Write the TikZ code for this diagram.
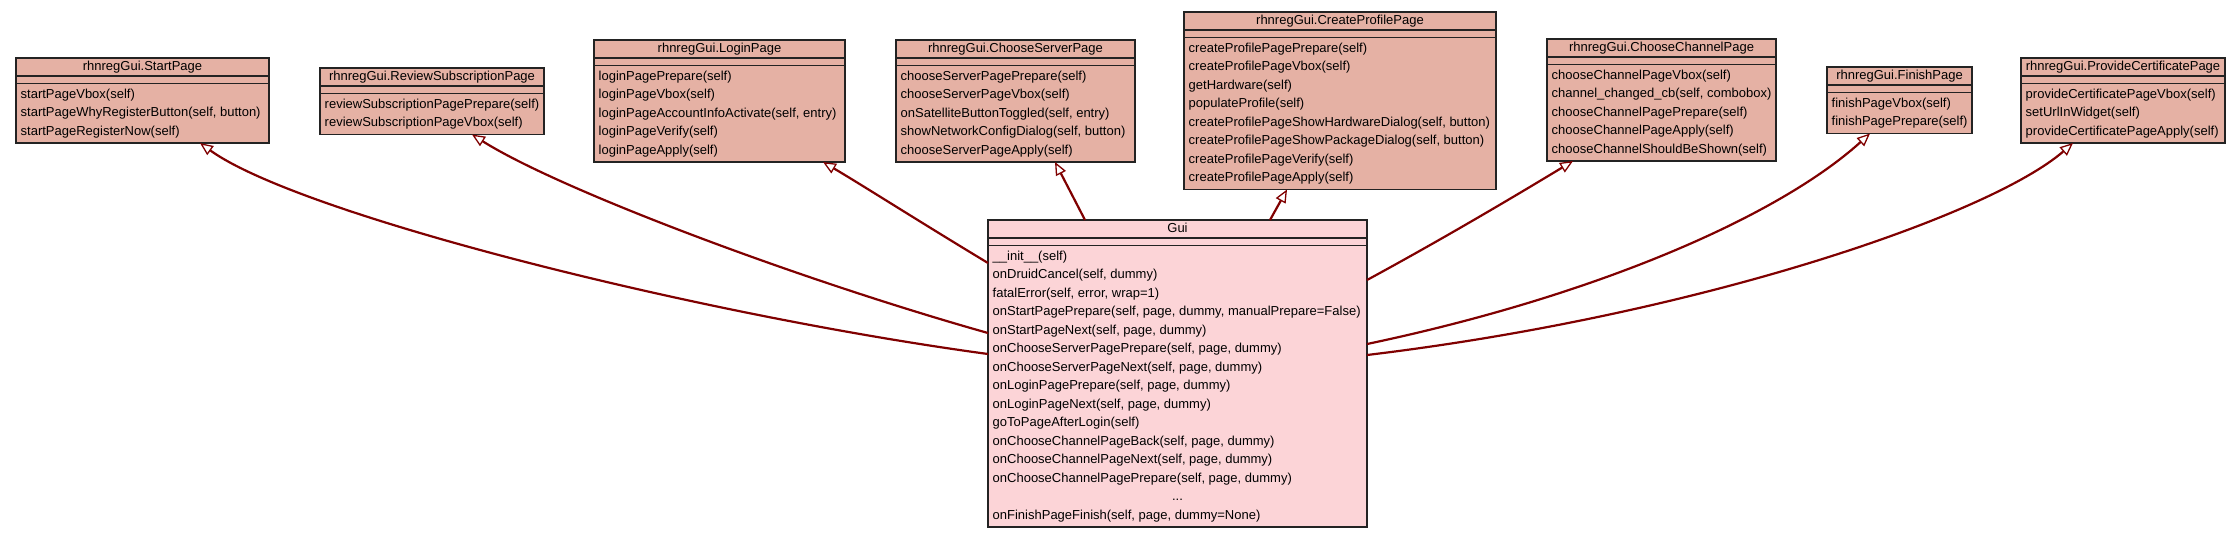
\documentclass[tikz,border=0pt]{standalone}
\usepackage{fontspec}
\setmainfont{Liberation Sans}
\usetikzlibrary{arrows.meta}
\definecolor{parentfill}{RGB}{229,177,164}
\definecolor{guifill}{RGB}{252,212,215}
\definecolor{edgec}{RGB}{128,0,0}
\definecolor{framec}{RGB}{35,35,35}
\tikzset{
  clsframe/.style={draw=framec, line width=1.3pt, inner sep=0pt, outer sep=0pt, rectangle},
  sepline/.style={draw=framec, line width=1.3pt},
  titletext/.style={font=\fontsize{13}{15}\selectfont, inner sep=0pt, text height=9.5pt, text depth=3pt},
  methtext/.style={font=\fontsize{13}{15}\selectfont, inner sep=0pt, anchor=west, text height=9.5pt, text depth=3pt},
  inherit/.style={draw=edgec, line width=2.2pt, -{Triangle[length=13pt, width=11pt, fill=white, line width=1.3pt]}},
}
\newcommand\classbox[7]{%
  \node[clsframe, fill=#2, minimum width={(#5)-(#3)}, minimum height={29.5+18.5*(#6)}, anchor=north west] (#1) at (#3,#4) {};
  \draw[sepline] ([yshift=-18pt]#1.north west) -- ([yshift=-18pt]#1.north east);
  \draw[sepline] ([yshift=-25.5pt]#1.north west) -- ([yshift=-25.5pt]#1.north east);
  \node[titletext] (#1-title) at ([yshift=-9pt]#1.north) {#7};
}
\newcommand\meth[3]{%
  \node[methtext] (#1-m#2) at ([xshift=4.5pt, yshift={-36.75-18.5*((#2)-1)}]#1.north west) {#3};
}
\begin{document}
\begin{tikzpicture}[x=1pt, y=-1pt]
\useasboundingbox[fill=white] (0,0) rectangle (2240,539);

% StartPage
\classbox{start}{parentfill}{16}{58}{269}{3}{rhnregGui.StartPage}
\meth{start}{1}{startPageVbox(self)}
\meth{start}{2}{startPageWhyRegisterButton(self, button)}
\meth{start}{3}{startPageRegisterNow(self)}

% ReviewSubscriptionPage
\classbox{review}{parentfill}{320}{68}{544}{2}{rhnregGui.ReviewSubscriptionPage}
\meth{review}{1}{reviewSubscriptionPagePrepare(self)}
\meth{review}{2}{reviewSubscriptionPageVbox(self)}

% LoginPage
\classbox{login}{parentfill}{594}{40}{845}{5}{rhnregGui.LoginPage}
\meth{login}{1}{loginPagePrepare(self)}
\meth{login}{2}{loginPageVbox(self)}
\meth{login}{3}{loginPageAccountInfoActivate(self, entry)}
\meth{login}{4}{loginPageVerify(self)}
\meth{login}{5}{loginPageApply(self)}

% ChooseServerPage
\classbox{server}{parentfill}{896}{40}{1135}{5}{rhnregGui.ChooseServerPage}
\meth{server}{1}{chooseServerPagePrepare(self)}
\meth{server}{2}{chooseServerPageVbox(self)}
\meth{server}{3}{onSatelliteButtonToggled(self, entry)}
\meth{server}{4}{showNetworkConfigDialog(self, button)}
\meth{server}{5}{chooseServerPageApply(self)}

% CreateProfilePage
\classbox{profile}{parentfill}{1184}{12}{1496}{8}{rhnregGui.CreateProfilePage}
\meth{profile}{1}{createProfilePagePrepare(self)}
\meth{profile}{2}{createProfilePageVbox(self)}
\meth{profile}{3}{getHardware(self)}
\meth{profile}{4}{populateProfile(self)}
\meth{profile}{5}{createProfilePageShowHardwareDialog(self, button)}
\meth{profile}{6}{createProfilePageShowPackageDialog(self, button)}
\meth{profile}{7}{createProfilePageVerify(self)}
\meth{profile}{8}{createProfilePageApply(self)}

% ChooseChannelPage
\classbox{channel}{parentfill}{1547}{39}{1776}{5}{rhnregGui.ChooseChannelPage}
\meth{channel}{1}{chooseChannelPageVbox(self)}
\meth{channel}{2}{channel\_changed\_cb(self, combobox)}
\meth{channel}{3}{chooseChannelPagePrepare(self)}
\meth{channel}{4}{chooseChannelPageApply(self)}
\meth{channel}{5}{chooseChannelShouldBeShown(self)}

% FinishPage
\classbox{finish}{parentfill}{1827}{67}{1972}{2}{rhnregGui.FinishPage}
\meth{finish}{1}{finishPageVbox(self)}
\meth{finish}{2}{finishPagePrepare(self)}

% ProvideCertificatePage
\classbox{cert}{parentfill}{2021}{58}{2225}{3}{rhnregGui.ProvideCertificatePage}
\meth{cert}{1}{provideCertificatePageVbox(self)}
\meth{cert}{2}{setUrlInWidget(self)}
\meth{cert}{3}{provideCertificatePageApply(self)}

% Gui
\classbox{gui}{guifill}{988}{220}{1367}{15}{Gui}
\meth{gui}{1}{\_\_init\_\_(self)}
\meth{gui}{2}{onDruidCancel(self, dummy)}
\meth{gui}{3}{fatalError(self, error, wrap=1)}
\meth{gui}{4}{onStartPagePrepare(self, page, dummy, manualPrepare=False)}
\meth{gui}{5}{onStartPageNext(self, page, dummy)}
\meth{gui}{6}{onChooseServerPagePrepare(self, page, dummy)}
\meth{gui}{7}{onChooseServerPageNext(self, page, dummy)}
\meth{gui}{8}{onLoginPagePrepare(self, page, dummy)}
\meth{gui}{9}{onLoginPageNext(self, page, dummy)}
\meth{gui}{10}{goToPageAfterLogin(self)}
\meth{gui}{11}{onChooseChannelPageBack(self, page, dummy)}
\meth{gui}{12}{onChooseChannelPageNext(self, page, dummy)}
\meth{gui}{13}{onChooseChannelPagePrepare(self, page, dummy)}
\node[titletext] (gui-dots) at ([yshift={-36.75-18.5*13}]gui.north) {...};
\meth{gui}{15}{onFinishPageFinish(self, page, dummy=None)}

% inheritance edges
\draw[inherit] ([yshift=-134pt]gui.north west) .. controls (700,315) and (300,215) .. ([xshift=184pt]start.south west);
\draw[inherit] ([yshift=-113pt]gui.north west) .. controls (800,280) and (560,190) .. ([xshift=152pt]review.south west);
\draw[inherit] ([yshift=-43pt]gui.north west) .. controls (920,222) and (862,185) .. ([xshift=229pt]login.south west);
\draw[inherit] ([xshift=97pt]gui.north west) -- ([xshift=159pt]server.south west);
\draw[inherit] ([xshift=282pt]gui.north west) -- ([xshift=103pt]profile.south west);
\draw[inherit] ([yshift=-60pt]gui.north east) .. controls (1450,235) and (1525,190) .. ([xshift=26pt]channel.south west);
\draw[inherit] ([yshift=-124pt]gui.north east) .. controls (1600,295) and (1780,215) .. ([xshift=43pt]finish.south west);
\draw[inherit] ([yshift=-135pt]gui.north east) .. controls (1700,315) and (1990,215) .. ([xshift=52pt]cert.south west);
\end{tikzpicture}
\end{document}
